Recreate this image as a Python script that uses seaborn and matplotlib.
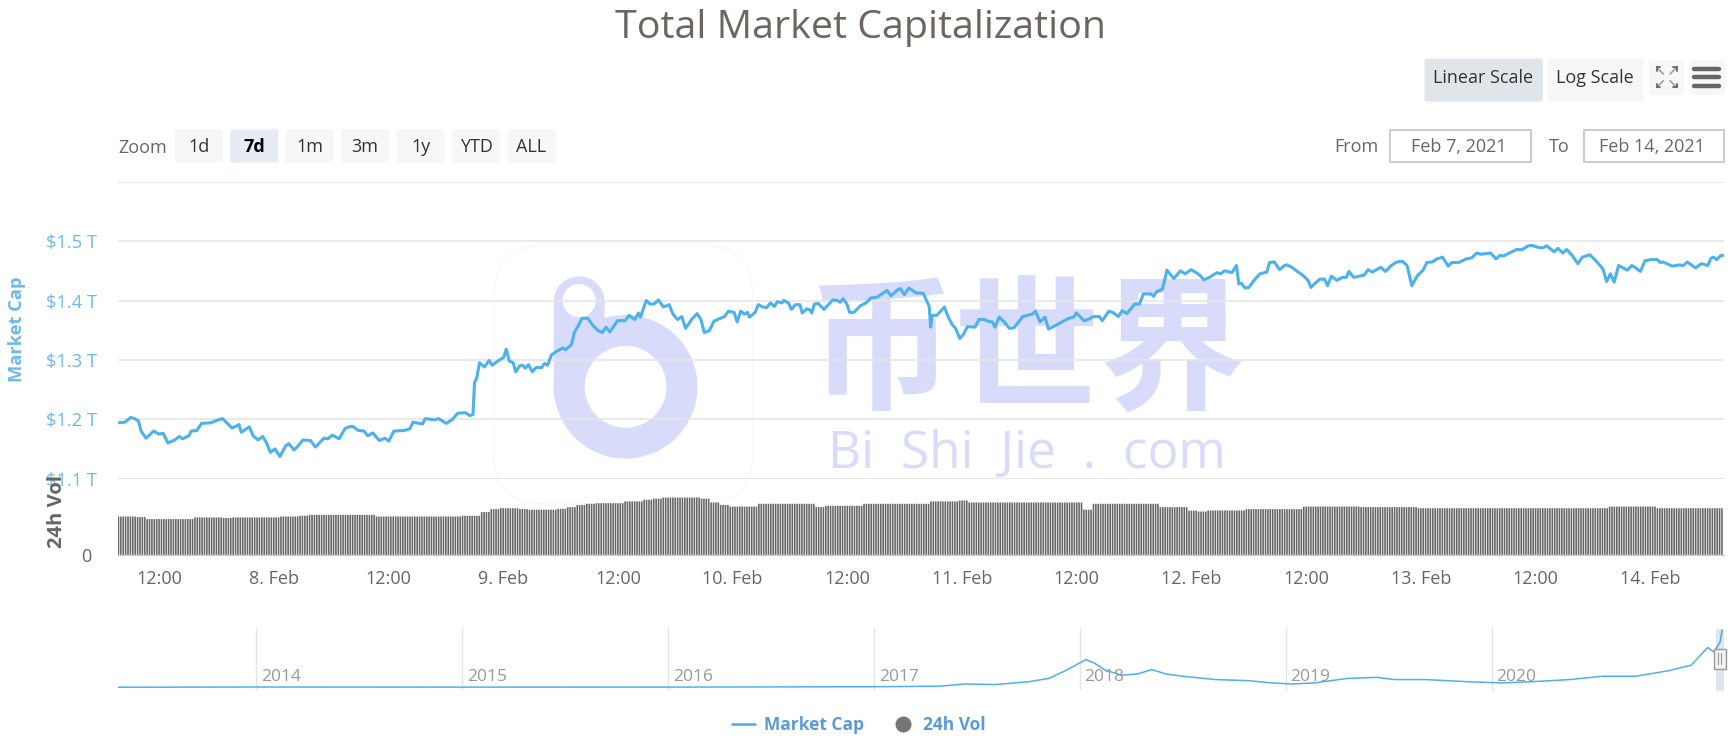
import matplotlib
matplotlib.use('Agg')
import matplotlib.pyplot as plt
import numpy as np
import seaborn as sns
from matplotlib.lines import Line2D
from matplotlib.patches import Circle, FancyBboxPatch, Rectangle

# market cap, hours since Feb 7 00:00 and $ trillion
mcap_hours = [
    7.84, 8.44, 9.04, 9.44, 9.84, 10.12, 10.64, 11.44, 11.96, 12.44, 12.92, 13.64, 14.12, 14.44, 15.12, 15.36,
    15.96, 16.44, 17.44, 18.04, 18.64, 19.64, 20.36, 20.6, 21.44, 21.84, 22.36, 22.84, 23.24, 23.64, 24.12, 24.64,
    25.24, 25.56, 26.12, 26.64, 27.04, 27.84, 28.36, 29.24, 29.64, 30.12, 30.84, 31.44, 31.84, 32.24, 32.84, 33.44,
    33.84, 34.36, 35.04, 35.64, 36.04, 36.56, 37.64, 38.24, 38.56, 39.56, 39.84, 40.84, 41.24, 42.04, 42.64, 43.24,
    44.04, 44.52, 44.84, 45.0, 45.24, 45.52, 46.04, 46.52, 46.84, 47.44, 48.04, 48.32, 48.64, 49.04, 49.32, 49.72,
    50.04, 50.32, 50.64, 51.04, 51.44, 52.04, 52.32, 52.64, 53.04, 53.64, 54.24, 54.52, 55.16, 55.44, 55.84, 56.24,
    56.84, 57.44, 57.96, 58.36, 58.76, 59.16, 59.96, 60.76, 61.16, 61.76, 62.16, 62.36, 62.96, 63.36, 63.76, 64.24,
    64.76, 65.36, 65.76, 66.24, 66.68, 67.08, 67.76, 68.28, 68.68, 69.04, 69.56, 70.04, 70.56, 71.16, 71.56, 72.16,
    72.48, 72.84, 73.24, 73.56, 73.76, 74.36, 74.68, 75.16, 75.56, 75.96, 76.36, 76.68, 77.16, 77.36, 77.84, 78.16,
    78.56, 79.04, 79.28, 79.76, 80.08, 80.28, 80.56, 80.96, 81.56, 82.48, 82.96, 83.24, 83.56, 83.96, 84.24, 84.68,
    85.36, 85.96, 86.44, 87.16, 88.16, 88.56, 89.36, 89.56, 89.96, 90.44, 91.16, 91.96, 92.36, 92.56, 92.72, 92.88,
    93.36, 94.16, 94.56, 94.96, 95.36, 95.76, 96.16, 96.56, 97.36, 97.76, 98.36, 98.68, 99.16, 99.44, 99.88, 100.36,
    100.96, 101.44, 102.36, 103.36, 103.68, 104.16, 104.68, 105.04, 105.56, 107.16, 107.68, 107.96, 108.76, 109.16,
    109.76, 110.36, 110.68, 111.36, 111.76, 112.36, 112.76, 113.24, 114.08, 114.56, 114.96, 115.76, 116.04, 116.36,
    116.96, 117.44, 118.16, 118.84, 119.36, 119.96, 120.68, 120.91, 121.3, 121.89, 122.67, 123.06, 123.46, 124.24,
    124.71, 124.95, 125.22, 125.61, 126.0, 126.59, 127.18, 127.89, 128.16, 128.67, 129.22, 129.73, 130.0, 130.51,
    130.9, 131.69, 132.2, 132.51, 132.86, 133.45, 133.92, 134.24, 134.63, 135.22, 135.8, 136.2, 136.47, 136.98,
    137.57, 138.08, 138.47, 138.94, 139.8, 140.31, 140.9, 141.49, 142.08, 142.55, 143.06, 143.64, 144.23, 144.62,
    145.21, 145.68, 146.27, 146.86, 147.25, 147.96, 148.74, 149.33, 149.84, 150.31, 151.29, 151.88, 152.27, 152.66,
    153.25, 154.03, 154.62, 155.21, 155.6, 156.38, 156.78, 157.17, 157.95, 158.34, 158.85, 159.25, 159.83, 160.42,
    160.89, 161.68, 162.26, 163.05, 163.44, 163.83, 164.22, 164.69, 165.6, 166.07, 166.38, 166.97, 167.44, 168.14,
    168.73, 169.05, 169.32, 170.3, 171.08, 171.48, 171.87, 172.73, 173.36, 174.02, 174.34, 174.61, 174.93, 175.4,
    175.7,
]
mcap_values = [
    1.194, 1.195, 1.203, 1.201, 1.197, 1.180, 1.168, 1.180, 1.175, 1.176, 1.160, 1.165, 1.171, 1.167, 1.172, 1.180,
    1.181, 1.193, 1.194, 1.198, 1.201, 1.185, 1.191, 1.178, 1.187, 1.172, 1.165, 1.171, 1.160, 1.144, 1.150, 1.137,
    1.155, 1.159, 1.148, 1.157, 1.165, 1.164, 1.153, 1.168, 1.167, 1.173, 1.167, 1.184, 1.187, 1.188, 1.181, 1.180,
    1.172, 1.177, 1.164, 1.168, 1.163, 1.180, 1.181, 1.184, 1.195, 1.192, 1.201, 1.199, 1.201, 1.193, 1.199, 1.210,
    1.211, 1.206, 1.208, 1.262, 1.270, 1.295, 1.288, 1.299, 1.291, 1.298, 1.304, 1.318, 1.298, 1.295, 1.280, 1.290,
    1.291, 1.286, 1.292, 1.280, 1.287, 1.287, 1.294, 1.291, 1.308, 1.315, 1.320, 1.317, 1.326, 1.346, 1.357, 1.370,
    1.370, 1.357, 1.349, 1.346, 1.355, 1.347, 1.366, 1.366, 1.375, 1.368, 1.379, 1.372, 1.400, 1.394, 1.394, 1.401,
    1.389, 1.393, 1.377, 1.368, 1.373, 1.353, 1.369, 1.378, 1.368, 1.346, 1.349, 1.365, 1.369, 1.373, 1.382, 1.380,
    1.364, 1.382, 1.377, 1.380, 1.372, 1.380, 1.393, 1.389, 1.388, 1.396, 1.390, 1.398, 1.396, 1.400, 1.396, 1.385,
    1.393, 1.393, 1.379, 1.386, 1.384, 1.379, 1.394, 1.395, 1.385, 1.401, 1.400, 1.397, 1.403, 1.394, 1.380, 1.380,
    1.391, 1.396, 1.404, 1.406, 1.417, 1.408, 1.419, 1.420, 1.410, 1.421, 1.413, 1.412, 1.397, 1.391, 1.355, 1.375,
    1.375, 1.389, 1.372, 1.360, 1.352, 1.336, 1.343, 1.356, 1.355, 1.368, 1.368, 1.365, 1.364, 1.355, 1.372, 1.365,
    1.353, 1.354, 1.373, 1.377, 1.382, 1.364, 1.372, 1.352, 1.356, 1.370, 1.372, 1.379, 1.366, 1.368,
    1.373, 1.373, 1.366, 1.382, 1.380, 1.373, 1.383, 1.378, 1.394, 1.394, 1.411, 1.411, 1.407, 1.415,
    1.419, 1.451, 1.437, 1.450, 1.445, 1.452, 1.445, 1.442, 1.435, 1.439, 1.447, 1.445, 1.450, 1.447,
    1.459, 1.428, 1.429, 1.421, 1.422, 1.435, 1.445, 1.448, 1.464, 1.465, 1.452, 1.459, 1.460, 1.456,
    1.451, 1.442, 1.434, 1.422, 1.428, 1.436, 1.436, 1.425, 1.441, 1.434, 1.439, 1.439, 1.449, 1.439,
    1.441, 1.443, 1.452, 1.448, 1.456, 1.449, 1.459, 1.465, 1.466, 1.459, 1.425, 1.442, 1.451, 1.464,
    1.465, 1.470, 1.473, 1.458, 1.464, 1.464, 1.470, 1.472, 1.480, 1.478, 1.480, 1.470, 1.476, 1.475,
    1.480, 1.486, 1.486, 1.492, 1.493, 1.489, 1.489, 1.492, 1.482, 1.488, 1.480, 1.486, 1.476, 1.462,
    1.473, 1.477, 1.468, 1.453, 1.432, 1.445, 1.431, 1.459, 1.451, 1.459, 1.456, 1.449, 1.467, 1.469,
    1.469, 1.464, 1.465, 1.458, 1.460, 1.459, 1.465, 1.455, 1.462, 1.459, 1.471, 1.473, 1.469, 1.476,
    1.476,
]

# 24h volume, $ billion, one reading per hour starting at 08:00 on Feb 7
vol_hourly = [
    208, 208, 205, 194, 194, 194, 194, 194, 203, 203, 203, 200, 203, 203, 203, 203, 203, 208, 208, 212, 217, 217, 217, 217,
    217, 217, 217, 208, 208, 208, 208, 208, 208, 208, 208, 208, 212, 212, 232, 248, 253, 253, 248, 245, 245, 245, 250, 259,
    270, 277, 280, 280, 280, 290, 290, 299, 305, 311, 311, 311, 311, 305, 284, 271, 262, 262, 262, 277, 277, 277, 277, 277,
    277, 259, 266, 266, 266, 266, 277, 277, 277, 277, 277, 277, 277, 290, 290, 290, 295, 284, 284, 284, 284, 284, 284, 284,
    284, 284, 284, 284, 284, 245, 277, 277, 277, 277, 277, 277, 277, 259, 259, 259, 240, 235, 241, 241, 241, 241, 248, 248,
    248, 248, 248, 248, 262, 262, 262, 262, 262, 262, 259, 259, 259, 259, 259, 259, 253, 253, 253, 253, 253, 253, 253, 253,
    253, 253, 253, 253, 253, 253, 253, 253, 253, 253, 253, 253, 262, 262, 262, 262, 262, 253, 253, 253, 253, 253, 253, 253,
]
bars_per_hour = 4

# whole history in the navigator
nav_years = [
    2013.33, 2014.0, 2015.0, 2016.0, 2017.0, 2017.32, 2017.44, 2017.59, 2017.75, 2017.85, 2017.93, 2017.99, 2018.03,
    2018.07, 2018.12, 2018.2, 2018.28, 2018.35, 2018.42, 2018.5, 2018.66, 2018.82, 2018.93, 2019.03, 2019.14, 2019.3,
    2019.44, 2019.53, 2019.68, 2019.89, 2020.05, 2020.19, 2020.38, 2020.54, 2020.7, 2020.86, 2020.97, 2021.05, 2021.08,
    2021.11, 2021.12,
]
nav_values = [
    2, 8, 5, 6, 15, 30, 87, 73, 145, 232, 435, 609, 725, 638, 464, 319, 348, 464, 348, 290, 203, 174, 116, 87, 116, 232,
    261, 203, 203, 145, 116, 145, 203, 290, 290, 435, 580, 1044, 928, 1180, 1500,
]

y_ticks = [1.1, 1.2, 1.3, 1.4, 1.5, 1.6]
y_labels = ['$1.1 T', '$1.2 T', '$1.3 T', '$1.4 T', '$1.5 T', '']
x_ticks = [12, 24, 36, 48, 60, 72, 84, 96, 108, 120, 132, 144, 156, 168]
x_labels = ['12:00', '8. Feb', '12:00', '9. Feb', '12:00', '10. Feb', '12:00', '11. Feb', '12:00', '12. Feb', '12:00',
            '13. Feb', '12:00', '14. Feb']
year_ticks = [2014, 2015, 2016, 2017, 2018, 2019, 2020]
range_buttons = ['1d', '7d', '1m', '3m', '1y', 'YTD', 'ALL']

LINE_COLOR = '#4db1ec'
LABEL_COLOR = '#6db9ee'
GREY_TEXT = '#666666'
GRID_COLOR = '#e6e6e6'
WATERMARK = '#d8dcfa'

# layout below is in the 1568 wide coordinates the picture was measured in
W, H = 1568.0, 676.8

sns.set_theme(style='white')
plt.rcParams['font.family'] = ['Open Sans', 'Noto Sans CJK SC', 'DejaVu Sans']
plt.rcParams['axes.unicode_minus'] = False

fig = plt.figure(figsize=(17.33, 7.48), dpi=100)


def box(left, top, right, bottom):
    return [left / W, 1 - bottom / H, (right - left) / W, (bottom - top) / H]


def button(ax, left, top, right, bottom, fill, edge='none'):
    ax.add_patch(FancyBboxPatch((left + 2, top + 2), right - left - 4, bottom - top - 4,
                                boxstyle='round,pad=2', facecolor=fill, edgecolor=edge, linewidth=0))


# watermark sits under the chart
bg = fig.add_axes([0, 0, 1, 1], zorder=0)
bg.set_xlim(0, W)
bg.set_ylim(H, 0)
bg.axis('off')
bg.add_patch(FancyBboxPatch((467, 242), 194, 194, boxstyle='round,pad=20,rounding_size=45',
                            facecolor='white', edgecolor='#f8f8fa', linewidth=1))
bg.add_patch(FancyBboxPatch((501, 273), 46, 80, boxstyle='round,pad=0,rounding_size=0.1', facecolor=WATERMARK,
                            edgecolor='none'))
bg.add_patch(Circle((524, 273), 23, facecolor=WATERMARK, edgecolor='none'))
bg.add_patch(Circle((566, 350), 65, facecolor=WATERMARK, edgecolor='none'))
bg.add_patch(Circle((566, 350), 37, facecolor='white', edgecolor='none'))
bg.add_patch(Circle((524, 272), 15, facecolor='white', edgecolor='none'))
bg.text(929, 322, '币世界', fontsize=105, color=WATERMARK, ha='center', va='center', family=['Noto Sans CJK SC'],
        fontweight='bold')
bg.text(929, 411, 'Bi  Shi  Jie  .  com', fontsize=37, color=WATERMARK, ha='center', va='center', family=['Open Sans'])

# market cap pane
ax = fig.add_axes(box(107, 164.5, 1560, 433), zorder=1)
ax.patch.set_alpha(0)
sns.lineplot(x=mcap_hours, y=mcap_values, ax=ax, color=LINE_COLOR, linewidth=2.2, estimator=None, sort=False)
ax.set_xlim(7.73, 175.73)
ax.set_ylim(1.1, 1.6)
ax.set_xticks([])
ax.set_yticks(y_ticks)
ax.set_yticklabels(y_labels)
ax.tick_params(axis='y', length=0, pad=15, labelsize=13.2, labelcolor=LABEL_COLOR)
ax.grid(axis='y', color=GRID_COLOR, linewidth=1.2)
ax.set_axisbelow(True)
sns.despine(ax=ax, left=True, bottom=True, top=True, right=True)
ax.axhline(1.1, color='#e2e2e2', linewidth=2.2, zorder=0)

# volume pane
vol_ax = fig.add_axes(box(107, 433, 1560, 502), zorder=1)
vol_ax.patch.set_alpha(0)
vol_values = np.repeat(vol_hourly, bars_per_hour)
vol_hours = 7.75 + np.arange(len(vol_values)) / bars_per_hour
sns.barplot(x=vol_hours, y=vol_values, ax=vol_ax, native_scale=True, color='#666666', saturation=1, width=0.68,
            errorbar=None)
for bar in vol_ax.patches:
    bar.set_snap(False)
    bar.set_linewidth(0)
vol_ax.set_xlim(7.73, 175.73)
vol_ax.set_ylim(0, 414)
vol_ax.set_yticks([0])
vol_ax.set_yticklabels(['0'])
vol_ax.set_xticks(x_ticks)
vol_ax.set_xticklabels(x_labels)
vol_ax.tick_params(axis='y', length=0, pad=19, labelsize=13, labelcolor=GREY_TEXT)
vol_ax.tick_params(axis='x', length=9.5, width=1, color='#ccd6eb', pad=1.5, labelsize=13, labelcolor=GREY_TEXT)
vol_ax.set_xlabel('')
vol_ax.set_ylabel('')
sns.despine(ax=vol_ax, left=True, top=True, right=True)
vol_ax.spines['bottom'].set_color('#bbbbbb')
vol_ax.spines['bottom'].set_linewidth(0.6)

# navigator
nav = fig.add_axes(box(107, 568, 1560, 625), zorder=1)
nav.patch.set_alpha(0)
sns.lineplot(x=nav_years, y=nav_values, ax=nav, color=LINE_COLOR, linewidth=1.1, estimator=None, sort=False)
nav.set_xlim(2013.33, 2021.13)
nav.set_ylim(-90, 1560)
nav.set_yticks([])
nav.set_xticks(year_ticks)
nav.set_xticklabels([])
nav.tick_params(axis='x', length=0)
nav.grid(axis='x', color='#e2e5ea', linewidth=1)
nav.set_axisbelow(True)
for year in year_ticks:
    nav.annotate(str(year), (year, 0), xycoords=('data', 'axes fraction'), xytext=(3.5, 7), textcoords='offset points',
                 fontsize=12.5, color='#999999')
sns.despine(ax=nav, left=True, right=True, bottom=True)
nav.spines['top'].set_color('#cccccc')
nav.spines['top'].set_linewidth(1.5)

# text, buttons and legend on top
ui = fig.add_axes([0, 0, 1, 1], zorder=5)
ui.set_xlim(0, W)
ui.set_ylim(H, 0)
ui.axis('off')
ui.patch.set_alpha(0)

ui.text(779, 25, 'Total Market Capitalization', fontsize=28.4, color='#6b6760', ha='center', va='center')
ui.text(15, 298, 'Market Cap', fontsize=13.2, fontweight='bold', color=LABEL_COLOR, rotation=90, ha='center',
        va='center')
ui.text(52, 463, '24h Vol', fontsize=14.5, fontweight='bold', color=GREY_TEXT, rotation=90, ha='center', va='center')

button(ui, 1289, 53, 1396, 92, '#e0e5ea')
button(ui, 1400, 53, 1487, 92, '#f7f7f7')
button(ui, 1492, 54, 1524, 86, '#f7f7f7')
button(ui, 1529, 54, 1561, 86, '#f7f7f7')
ui.text(1342, 70.5, 'Linear Scale', fontsize=13, color='#333333', ha='center', va='center')
ui.text(1443, 70.5, 'Log Scale', fontsize=13, color='#333333', ha='center', va='center')
for bar_y in [62, 70, 78]:
    ui.plot([1533, 1555], [bar_y, bar_y], color='#666666', linewidth=3.2, solid_capstyle='round')
for sx, sy in [(-1, -1), (1, -1), (-1, 1), (1, 1)]:
    ui.plot([1508 + sx * 3, 1508 + sx * 9], [70 + sy * 3, 70 + sy * 9], color='#999999', linewidth=1.1)
    ui.plot([1508 + sx * 9, 1508 + sx * 6], [70 + sy * 9, 70 + sy * 9], color='#666666', linewidth=1.3)
    ui.plot([1508 + sx * 9, 1508 + sx * 9], [70 + sy * 9, 70 + sy * 6], color='#666666', linewidth=1.3)

ui.text(107, 134, 'Zoom', fontsize=13, color=GREY_TEXT, va='center')
for i, name in enumerate(range_buttons):
    left = 158 + 50.2 * i
    selected = name == '7d'
    button(ui, left, 117, left + 43.5, 147, '#e6ebf5' if selected else '#f7f7f7')
    ui.text(left + 21.7, 133, name, fontsize=13, color='black' if selected else '#333333', ha='center', va='center',
            fontweight='bold' if selected else 'normal')

ui.text(1207, 133, 'From', fontsize=13, color=GREY_TEXT, va='center')
ui.text(1401, 133, 'To', fontsize=13, color=GREY_TEXT, va='center')
for left, label in [(1258, 'Feb 7, 2021'), (1433, 'Feb 14, 2021')]:
    ui.add_patch(Rectangle((left, 118), 127, 29, facecolor='white', edgecolor='#cccccc', linewidth=1.4))
    ui.text(left + 62, 133, label, fontsize=13, color=GREY_TEXT, ha='center', va='center')

# navigator selection handle
ui.add_patch(Rectangle((1553, 569), 7, 56, facecolor='#667aa8', alpha=0.2, edgecolor='none'))
ui.add_patch(Rectangle((1550.5, 587), 11, 18, facecolor='#f2f2f2', edgecolor='#999999', linewidth=1))
ui.plot([1554.5, 1554.5], [591, 601], color='#999999', linewidth=0.8)
ui.plot([1557.5, 1557.5], [591, 601], color='#999999', linewidth=0.8)

handles = [Line2D([], [], color=LINE_COLOR, linewidth=1.9),
           Line2D([], [], color='#757575', marker='o', markersize=10.5, linestyle='none')]
leg = fig.legend(handles, ['Market Cap', '24h Vol'], loc='center', bbox_to_anchor=(777 / W, 1 - 656 / H), ncol=2,
                 frameon=False, fontsize=12.5, handlelength=1.3, handletextpad=0.5, columnspacing=1.6)
for text in leg.get_texts():
    text.set_color('#5b9ad6')
    text.set_fontweight('bold')

fig.savefig('out.png', dpi=100)
plt.close(fig)
